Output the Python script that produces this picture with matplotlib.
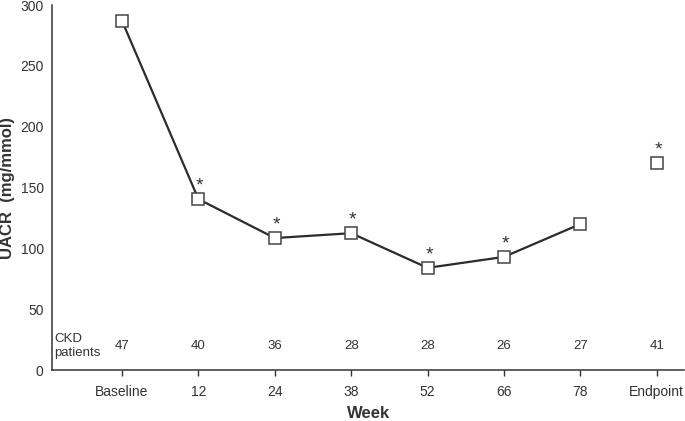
import numpy as np
import matplotlib
matplotlib.use("Agg")
import matplotlib.pyplot as plt

plt.rcParams['font.family'] = ['Liberation Sans', 'DejaVu Sans']

weeks = ["Baseline", "12", "24", "38", "52", "66", "78", "Endpoint"]
uacr = [287, 140.5, 108.5, 112.5, 84, 93, 120, 170]
signif = [False, True, True, True, True, True, False, True]
patients = [47, 40, 36, 28, 28, 26, 27, 41]

dark = "#333333"

fig = plt.figure(figsize=(6.85, 4.21), dpi=100)
ax = fig.add_axes([0.0759, 0.121, 0.923, 0.867])

x = np.arange(len(weeks))
# line for the visits, endpoint stands alone
ax.plot(x[:-1], uacr[:-1], color="#2b2b2b", lw=1.6, zorder=2)
ax.plot(x, uacr, ls="none", marker="s", ms=8, mfc="white", mec="#444444",
        mew=1.1, zorder=3)

for xi, yi, s in zip(x, uacr, signif):
    if s:
        ax.text(xi + 0.02, yi + 4, "*", ha="center", va="bottom",
                fontsize=14, color=dark)

for xi, n in zip(x, patients):
    ax.text(xi, 20, str(n), ha="center", va="center", fontsize=9.5, color=dark)
ax.text(-0.89, 20, "CKD\npatients", ha="left", va="center", fontsize=9.5,
        color=dark, linespacing=1.2)

ax.set_xlim(-0.917, 7.36)
ax.set_ylim(0, 300)
ax.set_xticks(x)
ax.set_xticklabels(weeks)
ax.set_yticks(range(0, 301, 50))
ax.tick_params(axis="x", length=4, width=1, color=dark, labelsize=10,
               labelcolor=dark, pad=7)
ax.tick_params(axis="y", length=0, labelsize=10, labelcolor=dark, pad=6)

for sp in ["top", "right"]:
    ax.spines[sp].set_visible(False)
for sp in ["left", "bottom"]:
    ax.spines[sp].set_color(dark)
    ax.spines[sp].set_linewidth(1.1)

ax.set_xlabel("Week", fontsize=12, fontweight="bold", color=dark, labelpad=5)
ax.set_ylabel("UACR  (mg/mmol)", fontsize=12, fontweight="bold", color=dark,
              labelpad=4)

fig.savefig("out.png", dpi=100)
